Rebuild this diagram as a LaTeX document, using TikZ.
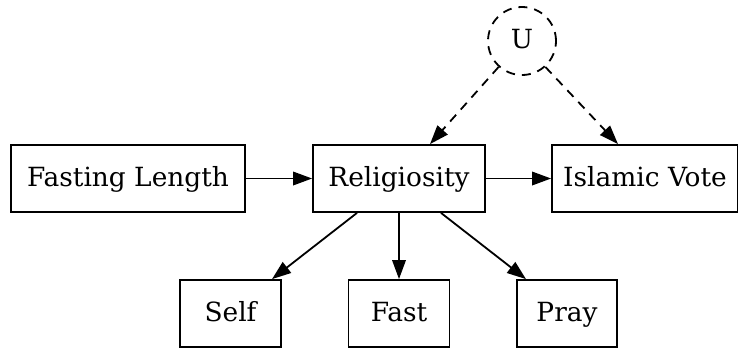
\documentclass[tikz,border=0pt]{standalone}
\usepackage{fontspec}
\setmainfont{DejaVu Serif}
\usetikzlibrary{arrows.meta}
\begin{document}
\begin{tikzpicture}[x=1bp,y=-1bp,
  every node/.style={font=\fontsize{26.5}{31}\selectfont, inner sep=0pt, text height=20bp, text depth=5bp},
  box/.style={draw, line width=1.8bp, minimum height=67bp},
  latent/.style={draw, circle, dashed, dash pattern=on 9bp off 7bp, line width=1.8bp, minimum size=68bp},
  edge/.style={line width=1.8bp, -{Triangle[length=19bp,width=13.5bp]}},
  dedge/.style={edge, dash pattern=on 9bp off 7bp}]
\useasboundingbox (0,0) rectangle (738,349);
\node[latent] (U) at (522,41) {U};
\node[box, minimum width=234bp] (fl) at (128,178.5) {Fasting Length};
\node[box, minimum width=172bp] (rel) at (399,178.5) {Religiosity};
\node[box, minimum width=186bp] (iv) at (645,178.5) {Islamic Vote};
\node[box, minimum width=101bp] (self) at (230.5,313.5) {Self};
\node[box, minimum width=101bp] (fast) at (399,313.5) {Fast};
\node[box, minimum width=100bp] (pray) at (567,313.5) {Pray};
\draw[edge] (fl) -- (rel);
\draw[edge] (rel) -- (iv);
\draw[dedge] (U.228) -- ([xshift=31bp]rel.north);
\draw[dedge] (U.312) -- ([xshift=-27bp]iv.north);
\draw[edge] ([xshift=-42bp]rel.south) -- ([xshift=41.5bp]self.north);
\draw[edge] (rel.south) -- (fast.north);
\draw[edge] ([xshift=42bp]rel.south) -- ([xshift=-41bp]pray.north);
\end{tikzpicture}
\end{document}
